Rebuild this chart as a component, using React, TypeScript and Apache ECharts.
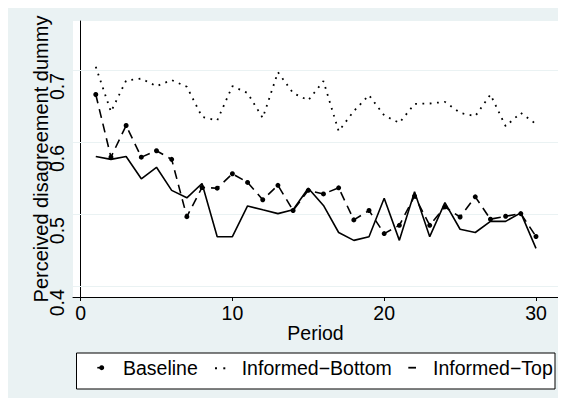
import React, { useEffect, useRef } from "react";
import * as echarts from "echarts";

const periods = [1, 2, 3, 4, 5, 6, 7, 8, 9, 10, 11, 12, 13, 14, 15, 16, 17, 18, 19, 20, 21, 22, 23, 24, 25, 26, 27, 28, 29, 30];
const baseline = [0.666, 0.579, 0.623, 0.579, 0.588, 0.576, 0.4965, 0.537, 0.536, 0.556, 0.544, 0.52, 0.54, 0.505, 0.533, 0.528, 0.5365, 0.492, 0.505, 0.473, 0.4845, 0.525, 0.4845, 0.51, 0.496, 0.524, 0.493, 0.497, 0.5007, 0.469];
const informedBottom = [0.7045, 0.642, 0.6855, 0.688, 0.6776, 0.686, 0.6767, 0.635, 0.63, 0.6776, 0.668, 0.6335, 0.697, 0.668, 0.658, 0.6846, 0.615, 0.643, 0.665, 0.637, 0.6266, 0.653, 0.6535, 0.6558, 0.6405, 0.636, 0.666, 0.622, 0.6405, 0.625];
const informedTop = [0.58, 0.576, 0.58, 0.549, 0.565, 0.533, 0.5226, 0.5425, 0.4687, 0.4687, 0.5114, 0.506, 0.5007, 0.506, 0.536, 0.512, 0.4745, 0.4636, 0.4687, 0.522, 0.4636, 0.531, 0.4687, 0.516, 0.479, 0.4745, 0.49, 0.49, 0.5017, 0.4525];
const yTicks = [0.4, 0.5, 0.6, 0.7];
const xTicks = [0, 10, 20, 30];
const seriesNames = ["Baseline", "Informed\u2212Bottom", "Informed\u2212Top"];

const FONT = "'Liberation Sans', Arial, sans-serif";
const FS = 19.5;

export default function App() {
  const ref = useRef<HTMLDivElement>(null);
  useEffect(() => {
    document.documentElement.style.overflow = "hidden";
    document.body.style.overflow = "hidden";
    const chart = echarts.init(ref.current!, null, { renderer: "svg" });
    const pair = (arr: number[]) => periods.map((p, i) => [p, arr[i]]);
    chart.setOption({
      animation: false,
      backgroundColor: "#eaf2f3",
      textStyle: { fontFamily: FONT },
      grid: { left: 65, top: 13, right: 8, bottom: 101, show: true, backgroundColor: "#ffffff", borderWidth: 0 },
      xAxis: {
        type: "value",
        min: -0.5,
        max: 31.45,
        name: "Period",
        nameLocation: "middle",
        nameGap: 26,
        nameMoveOverlap: false,
        nameTextStyle: { fontSize: FS, color: "#000", fontFamily: FONT },
        axisLine: { show: true, lineStyle: { color: "#000", width: 1 } },
        axisTick: { show: true, length: 4, customValues: xTicks, lineStyle: { color: "#000" } },
        axisLabel: { customValues: xTicks, fontSize: FS, color: "#000", margin: 6, fontFamily: FONT },
        splitLine: { show: false },
      },
      yAxis: {
        type: "value",
        min: 0.385,
        max: 0.768,
        name: "Perceived disagreement dummy",
        nameLocation: "middle",
        nameGap: 22,
        nameMoveOverlap: false,
        nameTextStyle: { fontSize: 20, color: "#000", fontFamily: FONT },
        axisLine: { show: true, lineStyle: { color: "#000", width: 1 } },
        axisTick: { show: true, length: 4, customValues: yTicks, lineStyle: { color: "#000" } },
        axisLabel: {
          customValues: yTicks,
          rotate: 90,
          margin: 6,
          padding: [0, 33, 0, 0],
          fontSize: FS,
          color: "#000",
          fontFamily: FONT,
          formatter: (v: number) => v.toFixed(1),
        },
        splitLine: { show: false },
      },
      series: [
        {
          name: seriesNames[0],
          type: "line",
          data: pair(baseline),
          symbol: "circle",
          symbolSize: 5,
          itemStyle: { color: "#000" },
          lineStyle: { color: "#000", width: 1.6, type: [9, 6] },
          markLine: {
            silent: true,
            z: 1,
            symbol: ["none", "none"],
            label: { show: false },
            lineStyle: { color: "#eaf2f3", width: 1, type: "solid" },
            data: yTicks.map((v) => ({ yAxis: v })),
          },
        },
        {
          name: seriesNames[1],
          type: "line",
          data: pair(informedBottom),
          showSymbol: false,
          symbol: "none",
          lineStyle: { color: "#000", width: 1.8, type: [1.8, 5.5] },
        },
        {
          name: seriesNames[2],
          type: "line",
          data: pair(informedTop),
          showSymbol: false,
          symbol: "none",
          lineStyle: { color: "#000", width: 1.6, type: "solid" },
        },
      ],
      graphic: [
        {
          type: "rect",
          shape: { x: 68.5, y: 345, width: 478.5, height: 36 },
          style: { fill: "#fff", stroke: "#000", lineWidth: 1 },
          z: 10,
        },
        { type: "line", shape: { x1: 89.3, y1: 359.7, x2: 93.7, y2: 359.7 }, style: { stroke: "#000", lineWidth: 1.6 }, z: 11 },
        { type: "circle", shape: { cx: 93.7, cy: 359.7, r: 2.5 }, style: { fill: "#000" }, z: 11 },
        { type: "rect", shape: { x: 207, y: 359.3, width: 2, height: 2 }, style: { fill: "#000" }, z: 11 },
        { type: "rect", shape: { x: 215.3, y: 359.3, width: 2, height: 2 }, style: { fill: "#000" }, z: 11 },
        { type: "line", shape: { x1: 400.3, y1: 359.7, x2: 408, y2: 359.7 }, style: { stroke: "#000", lineWidth: 1.8 }, z: 11 },
        { type: "text", x: 115, y: 360, style: { text: seriesNames[0], font: `${FS}px ${FONT}`, fill: "#000", textVerticalAlign: "middle" }, z: 11 },
        { type: "text", x: 233.7, y: 360, style: { text: seriesNames[1], font: `${FS}px ${FONT}`, fill: "#000", textVerticalAlign: "middle" }, z: 11 },
        { type: "text", x: 425, y: 360, style: { text: seriesNames[2], font: `${FS}px ${FONT}`, fill: "#000", textVerticalAlign: "middle" }, z: 11 },
      ],
    });
    return () => chart.dispose();
  }, []);
  return <div ref={ref} style={{ width: 558, height: 390 }} />;
}
